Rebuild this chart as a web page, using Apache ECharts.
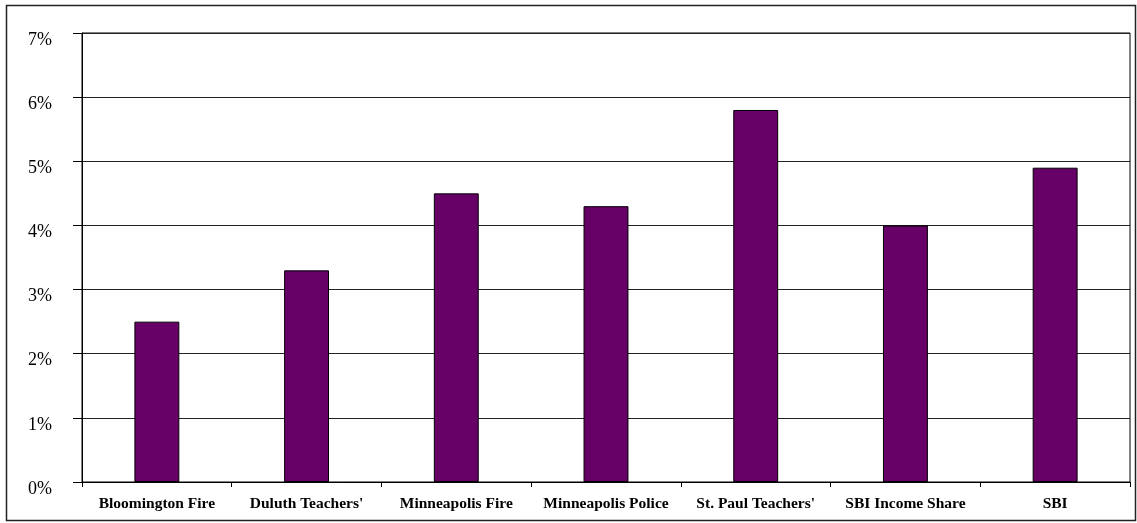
<!DOCTYPE html>
<html><head><meta charset="utf-8">
<script src="https://cdn.jsdelivr.net/npm/echarts@6/dist/echarts.min.js"></script>
<style>html,body{margin:0;padding:0;background:#fff}#c{width:1137px;height:523px}</style>
</head><body><div id="c"></div>
<script>
const categories = ["Bloomington Fire", "Duluth Teachers'", "Minneapolis Fire", "Minneapolis Police", "St. Paul Teachers'", "SBI Income Share", "SBI"];
const values = [2.5, 3.3, 4.5, 4.3, 5.8, 4.0, 4.9];
const yTicks = [0, 1, 2, 3, 4, 5, 6, 7];

const chart = echarts.init(document.getElementById('c'), null, {renderer: 'canvas'});
chart.setOption({
  animation: false,
  backgroundColor: '#fff',
  graphic: [{
    type: 'rect', shape: {x: 6.5, y: 5.5, width: 1129, height: 515},
    style: {fill: 'none', stroke: '#222', lineWidth: 1.5}, silent: true
  }],
  grid: {left: 82, top: 33, right: 7, bottom: 41, show: true, borderColor: '#000', borderWidth: 1, backgroundColor: 'transparent'},
  xAxis: {
    type: 'category', data: categories,
    axisLine: {lineStyle: {color: '#000', width: 1}},
    axisTick: {show: true, alignWithLabel: false, length: 5, lineStyle: {color: '#000'}},
    axisLabel: {fontFamily: 'Liberation Serif', fontWeight: 'bold', fontSize: 15.5, color: '#000', margin: 14, interval: 0}
  },
  yAxis: {
    type: 'value', min: yTicks[0], max: yTicks[yTicks.length - 1], interval: 1,
    axisLine: {show: true, lineStyle: {color: '#000'}},
    axisTick: {show: true, length: 9, lineStyle: {color: '#000'}},
    splitLine: {lineStyle: {color: '#222', width: 1}},
    axisLabel: {fontFamily: 'Liberation Serif', fontSize: 18, color: '#000', margin: 30, verticalAlign: 'top', padding: [-2, 0, 0, 0], formatter: v => v + '%'}
  },
  series: [{
    type: 'bar', data: values, barWidth: '30%',
    itemStyle: {color: '#660066', borderColor: '#000', borderWidth: 1}
  }]
});
</script></body></html>
